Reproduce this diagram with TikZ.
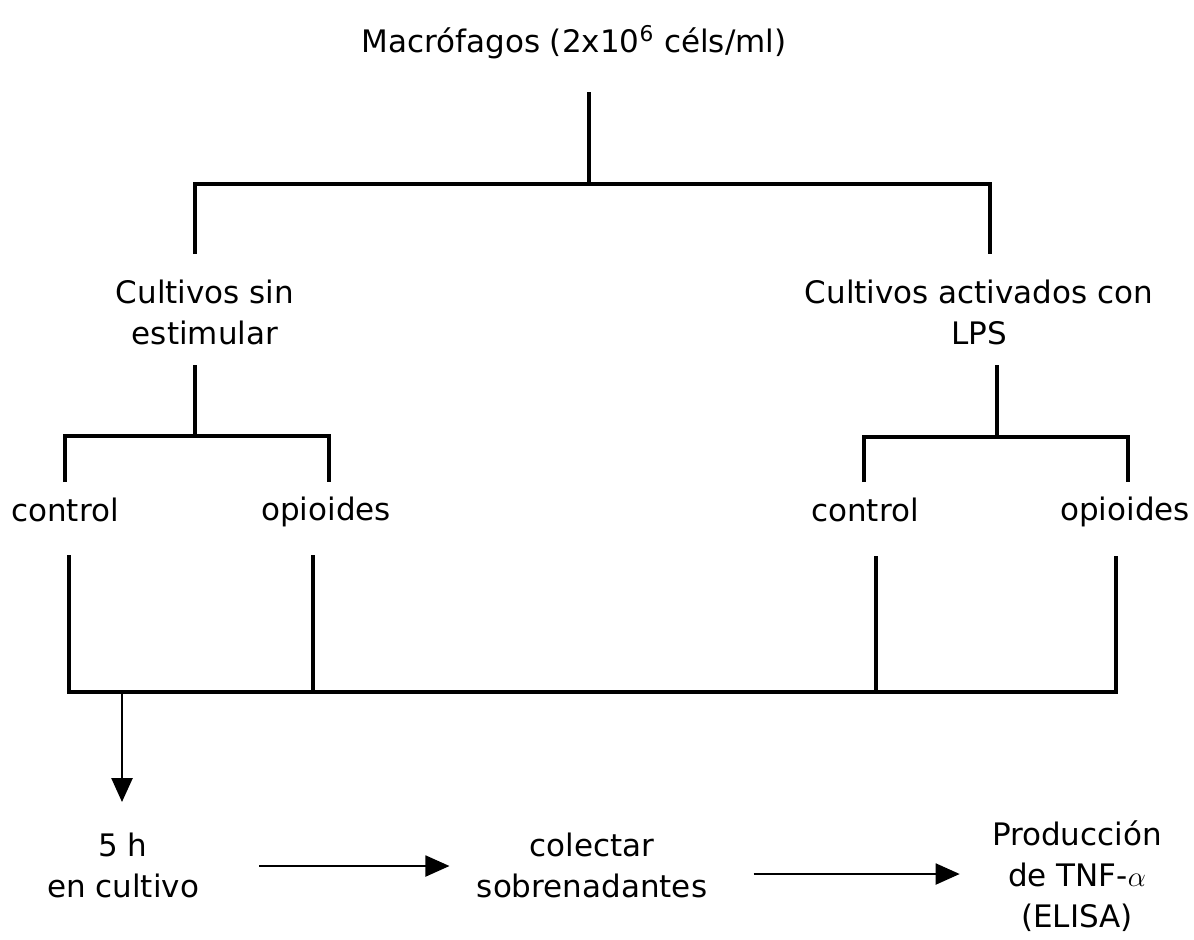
\documentclass[tikz,border=0pt]{standalone}
\usepackage{fontspec}
\setmainfont{DejaVu Sans}
\usetikzlibrary{arrows.meta}
\begin{document}
\begin{tikzpicture}[x=0.5pt,y=-0.5pt,
  lbl/.style={inner sep=0pt, align=center, font=\fontsize{15.5}{20.5}\selectfont},
  tree/.style={line width=1.6pt},
  flow/.style={line width=1pt, -{Triangle[length=12pt,width=10.5pt]}}]
\useasboundingbox (0,0) rectangle (1194,939);

% text nodes
\node[lbl] (tit) at (574,42) {Macrófagos (2x10\textsuperscript{6} céls/ml)};
\node[lbl] (sin) at (205,312) {Cultivos sin\\estimular};
\node[lbl] (lps) at (979,312) {Cultivos activados con\\LPS};
\node[lbl] (ctlL) at (65,510) {control};
\node[lbl] (opL) at (326,512) {opioides};
\node[lbl] (ctlR) at (865,510) {control};
\node[lbl] (opR) at (1125,512) {opioides};
\node[lbl] (h5) at (123,865) {5 h\\en cultivo};
\node[lbl] (col) at (592,865) {colectar\\sobrenadantes};
\node[lbl] (prod) at (1077,876) {Producción\\de TNF-$\alpha$\\(ELISA)};

% junction points of the tree
\coordinate (a0) at (589,92);
\coordinate (a1) at (589,184);
\coordinate (aLd) at (195,254);
\coordinate (aRd) at (990,254);
\coordinate (b0) at (195,365);
\coordinate (b1) at (195,436);
\coordinate (bLd) at (65,482);
\coordinate (bRd) at (329,482);
\coordinate (d0) at (997,365);
\coordinate (d1) at (997,437);
\coordinate (dLd) at (864,482);
\coordinate (dRd) at (1128,482);
\coordinate (c1) at (69,555);
\coordinate (c2) at (313,555);
\coordinate (e1) at (876,556);
\coordinate (e2) at (1116,556);
\coordinate (base) at (69,692);
\coordinate (arr0) at (122,692);
\coordinate (arr1) at (122,802);

% top split
\draw[tree] (a0) -- (a1);
\draw[tree] (aLd) |- (a1) -| (aRd);
% left branch
\draw[tree] (b0) -- (b1);
\draw[tree] (bLd) |- (b1) -| (bRd);
% right branch
\draw[tree] (d0) -- (d1);
\draw[tree] (dLd) |- (d1) -| (dRd);
% collecting line
\draw[tree] (c1) -- (base) -- (base -| e2) -- (e2);
\draw[tree] (c2) -- (c2 |- base);
\draw[tree] (e1) -- (e1 |- base);

% flow arrows
\draw[line width=1.3pt, -{Triangle[length=12pt,width=10.5pt]}] (arr0) -- (arr1);
\draw[flow] ([xshift=30pt,yshift=-0.5pt]h5.east) -- ([xshift=-13.5pt,yshift=-0.5pt]h5.east -| col.west);
\draw[flow] ([xshift=23pt,yshift=-4.5pt]col.east) -- ([xshift=-16pt,yshift=-4.5pt]col.east -| prod.west);
\end{tikzpicture}
\end{document}
